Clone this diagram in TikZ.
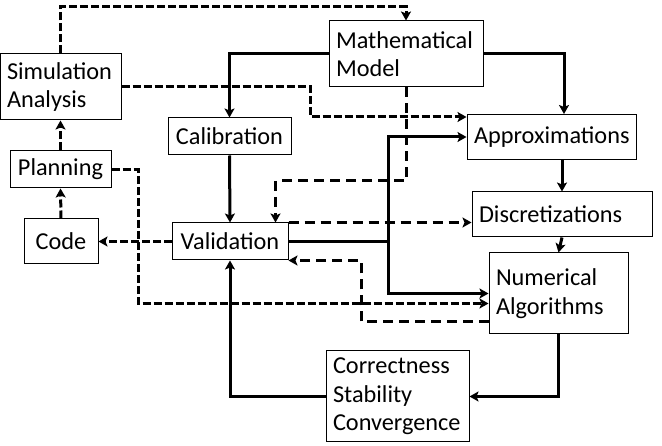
\documentclass[tikz,border=0pt]{standalone}
\usepackage{fontspec}
\setmainfont{Carlito}
\usetikzlibrary{arrows.meta}
\usetikzlibrary{calc}
\tikzset{
    box/.style={draw, line width=1pt, inner xsep=7pt, inner ysep=0pt, align=left,
        font=\fontsize{24.3}{28.5}\selectfont},
    solidarrow/.style={line width=3pt, -{Stealth[length=9pt,width=10pt,inset=2pt]}},
    densearrow/.style={solidarrow, dash pattern=on 8pt off 3pt},
    sparsearrow/.style={solidarrow, dash pattern=on 10pt off 6pt}
}

\begin{document}
\begin{tikzpicture}[x=1pt, y=-1pt]
            \useasboundingbox (0,0) rectangle (662,446);
            \node [box, text width=107pt, minimum height=66pt] (sim) at (60.5,87) {Simulation\\Analysis};
            \node [box, align=center, text width=87pt, minimum height=37pt] (plan) at (60.5,169.5) {Planning};
            \node [box, align=center, text width=60pt, minimum height=45pt] (code) at (61,241.5) {Code};
            \node [box, align=center, text width=109pt, minimum height=37pt] (calib) at (229.5,136.5) {Calibration};
            \node [box, align=center, text width=102pt, minimum height=37pt] (valid) at (230,241.5) {Validation};
            \node [box, text width=140pt, minimum height=66pt] (model) at (406,54) {Mathematical\\Model};
            \node [box, align=center, text width=155pt, minimum height=45pt] (approx) at (551.5,137) {Approximations};
            \node [box, text width=166pt, minimum height=45pt] (disc) at (562,214.5) {Discretizations};
            \node [box, text width=125pt, minimum height=81pt] (num) at (558.5,293.5) {Numerical\\Algorithms\\[6pt]};
            \node [box, text width=129pt, minimum height=91pt] (corr) at (397.5,396.5)
                {Correctness\\Stability\\Convergence};
            \coordinate (split) at (388,241.5);

            \draw [densearrow] (sim.north) -- (sim.north |- 0,7) -| (model.north);
            \draw [densearrow] (sim.east) -- (310,87) |- ($(approx.north west)+(0,3)$);
            \draw [densearrow] (plan.north) -- (sim.south);
            \draw [densearrow] (code.north) -- (plan.south);
            \draw [densearrow] (valid.west) -- (valid.west -| code.east);
            \draw [densearrow] (plan.east) -- (138,169.5) |- ($(num.west)+(0,10)$);
            \draw [sparsearrow] (model.south) -- (model.south |- 0,181) -| ($(valid.north east)+(-13,0)$);
            \draw [sparsearrow] (valid.north east) -- (valid.north east -| disc.west);
            \draw [sparsearrow] ($(num.west)+(0,28.5)$) -- (361,322) |- (valid.south east);

            \draw [solidarrow] (model.west) -| (calib.north);
            \draw [solidarrow] (model.east) -| ($(approx.north)+(12.5,0)$);
            \draw [solidarrow] (calib.south) -- (valid.north);
            \draw [solidarrow] (valid.east) -- (split) |- (approx.west);
            \draw [solidarrow] (split) |- (num.west);
            \draw [solidarrow] (disc.north |- approx.south) -- (disc.north);
            \draw [solidarrow] (disc.south) -- (num.north);
            \draw [solidarrow] (num.south) |- (corr.east);
            \draw [solidarrow] (corr.west) -| (valid.south);
        \end{tikzpicture}
\end{document}
